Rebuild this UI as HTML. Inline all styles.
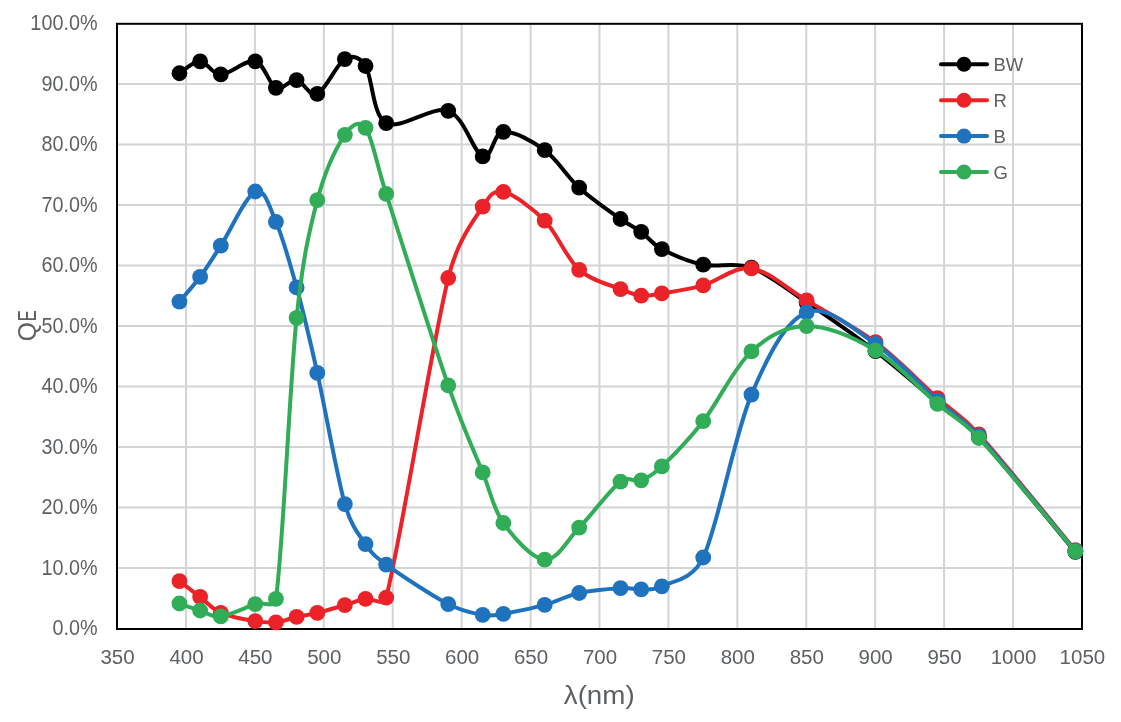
<!DOCTYPE html>
<html><head><meta charset="utf-8"><style>
html,body{margin:0;padding:0;background:#fff;}
svg{display:block;will-change:transform;}
text{font-family:"Liberation Sans",sans-serif;fill:#5E6164;}
</style></head><body>
<svg width="1121" height="722" viewBox="0 0 1121 722">
<rect width="1121" height="722" fill="#fff"/>
<line x1="117" y1="568.00" x2="1082" y2="568.00" stroke="#D3D4D7" stroke-width="2"/>
<line x1="117" y1="507.50" x2="1082" y2="507.50" stroke="#D3D4D7" stroke-width="2"/>
<line x1="117" y1="447.00" x2="1082" y2="447.00" stroke="#D3D4D7" stroke-width="2"/>
<line x1="117" y1="386.50" x2="1082" y2="386.50" stroke="#D3D4D7" stroke-width="2"/>
<line x1="117" y1="326.00" x2="1082" y2="326.00" stroke="#D3D4D7" stroke-width="2"/>
<line x1="117" y1="265.50" x2="1082" y2="265.50" stroke="#D3D4D7" stroke-width="2"/>
<line x1="117" y1="205.00" x2="1082" y2="205.00" stroke="#D3D4D7" stroke-width="2"/>
<line x1="117" y1="144.50" x2="1082" y2="144.50" stroke="#D3D4D7" stroke-width="2"/>
<line x1="117" y1="84.00" x2="1082" y2="84.00" stroke="#D3D4D7" stroke-width="2"/>
<line x1="186.00" y1="24" x2="186.00" y2="629" stroke="#D3D4D7" stroke-width="2"/>
<line x1="254.91" y1="24" x2="254.91" y2="629" stroke="#D3D4D7" stroke-width="2"/>
<line x1="323.83" y1="24" x2="323.83" y2="629" stroke="#D3D4D7" stroke-width="2"/>
<line x1="392.75" y1="24" x2="392.75" y2="629" stroke="#D3D4D7" stroke-width="2"/>
<line x1="461.66" y1="24" x2="461.66" y2="629" stroke="#D3D4D7" stroke-width="2"/>
<line x1="530.58" y1="24" x2="530.58" y2="629" stroke="#D3D4D7" stroke-width="2"/>
<line x1="599.50" y1="24" x2="599.50" y2="629" stroke="#D3D4D7" stroke-width="2"/>
<line x1="668.41" y1="24" x2="668.41" y2="629" stroke="#D3D4D7" stroke-width="2"/>
<line x1="737.33" y1="24" x2="737.33" y2="629" stroke="#D3D4D7" stroke-width="2"/>
<line x1="806.25" y1="24" x2="806.25" y2="629" stroke="#D3D4D7" stroke-width="2"/>
<line x1="875.16" y1="24" x2="875.16" y2="629" stroke="#D3D4D7" stroke-width="2"/>
<line x1="944.08" y1="24" x2="944.08" y2="629" stroke="#D3D4D7" stroke-width="2"/>
<line x1="1012.99" y1="24" x2="1012.99" y2="629" stroke="#D3D4D7" stroke-width="2"/>
<rect x="117" y="23.8" width="965" height="605.2" fill="none" stroke="#000" stroke-width="2"/>
<path d="M179.45,73.25 C182.90,71.26 193.24,61.11 200.13,61.30 C207.02,61.49 211.62,74.40 220.80,74.40 C229.99,74.40 246.07,59.05 255.26,61.30 C264.45,63.55 269.05,84.77 275.94,87.90 C282.83,91.03 289.72,79.10 296.61,80.10 C303.50,81.10 309.25,97.40 317.29,93.90 C325.33,90.40 336.81,63.75 344.85,59.10 C352.89,54.45 359.62,56.84 365.53,66.00 C372.42,76.68 372.42,115.73 386.20,123.20 C399.99,130.67 432.15,105.27 448.23,110.80 C464.31,116.33 473.50,152.90 482.69,156.40 C491.88,159.90 493.02,132.83 503.36,131.80 C513.70,130.77 532.08,140.88 544.71,150.20 C557.35,159.52 566.54,176.23 579.17,187.70 C591.81,199.17 610.18,211.65 620.52,219.00 C630.43,226.05 634.30,226.78 641.20,231.80 C648.09,236.82 651.53,243.62 661.87,249.10 C672.21,254.58 688.29,261.60 703.22,264.70 C718.15,267.80 734.23,261.42 751.46,267.70 C768.69,273.98 785.92,288.48 806.60,302.40 C827.27,316.32 853.69,334.48 875.51,351.20 C897.34,367.92 920.31,388.37 937.54,402.70 C954.77,417.03 960.61,417.42 978.89,437.20 C1001.86,462.07 1059.29,532.78 1075.37,551.90" fill="none" stroke="#000000" stroke-width="4.0" stroke-linejoin="round" stroke-linecap="round"/>
<ellipse cx="179.45" cy="73.25" rx="7.9" ry="7.9" fill="#000000"/>
<ellipse cx="200.13" cy="61.30" rx="7.9" ry="7.9" fill="#000000"/>
<ellipse cx="220.80" cy="74.40" rx="7.9" ry="7.9" fill="#000000"/>
<ellipse cx="255.26" cy="61.30" rx="7.9" ry="7.9" fill="#000000"/>
<ellipse cx="275.94" cy="87.90" rx="7.9" ry="7.9" fill="#000000"/>
<ellipse cx="296.61" cy="80.10" rx="7.9" ry="7.9" fill="#000000"/>
<ellipse cx="317.29" cy="93.90" rx="7.9" ry="7.9" fill="#000000"/>
<ellipse cx="344.85" cy="59.10" rx="7.9" ry="7.9" fill="#000000"/>
<ellipse cx="365.53" cy="66.00" rx="7.9" ry="7.9" fill="#000000"/>
<ellipse cx="386.20" cy="123.20" rx="7.9" ry="7.9" fill="#000000"/>
<ellipse cx="448.23" cy="110.80" rx="7.9" ry="7.9" fill="#000000"/>
<ellipse cx="482.69" cy="156.40" rx="7.9" ry="7.9" fill="#000000"/>
<ellipse cx="503.36" cy="131.80" rx="7.9" ry="7.9" fill="#000000"/>
<ellipse cx="544.71" cy="150.20" rx="7.9" ry="7.9" fill="#000000"/>
<ellipse cx="579.17" cy="187.70" rx="7.9" ry="7.9" fill="#000000"/>
<ellipse cx="620.52" cy="219.00" rx="7.9" ry="7.9" fill="#000000"/>
<ellipse cx="641.20" cy="231.80" rx="7.9" ry="7.9" fill="#000000"/>
<ellipse cx="661.87" cy="249.10" rx="7.9" ry="7.9" fill="#000000"/>
<ellipse cx="703.22" cy="264.70" rx="7.9" ry="7.9" fill="#000000"/>
<ellipse cx="751.46" cy="267.70" rx="7.9" ry="7.9" fill="#000000"/>
<ellipse cx="806.60" cy="302.40" rx="7.9" ry="7.9" fill="#000000"/>
<ellipse cx="875.51" cy="351.20" rx="7.9" ry="7.9" fill="#000000"/>
<ellipse cx="937.54" cy="402.70" rx="7.9" ry="7.9" fill="#000000"/>
<ellipse cx="978.89" cy="437.20" rx="7.9" ry="7.9" fill="#000000"/>
<ellipse cx="1075.37" cy="551.90" rx="7.9" ry="7.9" fill="#000000"/>
<path d="M179.45,581.10 C182.90,583.73 193.24,591.62 200.13,596.90 C207.02,602.18 211.62,608.77 220.80,612.80 C229.99,616.83 246.07,619.52 255.26,621.10 C264.45,622.68 269.05,623.00 275.94,622.30 C282.83,621.60 289.72,618.47 296.61,616.90 C303.50,615.33 309.25,614.87 317.29,612.90 C325.33,610.93 336.81,607.45 344.85,605.10 C352.89,602.75 358.64,600.05 365.53,598.80 C372.42,597.55 383.62,607.63 386.20,597.60 C399.99,544.13 432.15,343.15 448.23,278.00 C457.72,239.56 473.50,221.05 482.69,206.70 C489.54,195.99 493.02,189.57 503.36,191.90 C513.70,194.23 532.08,207.72 544.71,220.70 C557.35,233.68 566.54,258.40 579.17,269.80 C591.81,281.20 610.18,284.80 620.52,289.10 C630.53,293.26 634.30,294.88 641.20,295.60 C648.09,296.32 651.61,295.09 661.87,293.40 C672.21,291.70 688.29,289.57 703.22,285.40 C718.15,281.23 734.23,265.90 751.46,268.40 C768.69,270.90 785.92,288.10 806.60,300.40 C827.27,312.70 853.69,325.92 875.51,342.20 C897.34,358.48 920.31,382.73 937.54,398.10 C954.77,413.47 960.41,414.01 978.89,434.40 C1001.86,459.75 1059.29,530.90 1075.37,550.20" fill="none" stroke="#EB2328" stroke-width="4.0" stroke-linejoin="round" stroke-linecap="round"/>
<ellipse cx="179.45" cy="581.10" rx="7.9" ry="7.9" fill="#EB2328"/>
<ellipse cx="200.13" cy="596.90" rx="7.9" ry="7.9" fill="#EB2328"/>
<ellipse cx="220.80" cy="612.80" rx="7.9" ry="7.9" fill="#EB2328"/>
<ellipse cx="255.26" cy="621.10" rx="7.9" ry="7.9" fill="#EB2328"/>
<ellipse cx="275.94" cy="622.30" rx="7.9" ry="7.9" fill="#EB2328"/>
<ellipse cx="296.61" cy="616.90" rx="7.9" ry="7.9" fill="#EB2328"/>
<ellipse cx="317.29" cy="612.90" rx="7.9" ry="7.9" fill="#EB2328"/>
<ellipse cx="344.85" cy="605.10" rx="7.9" ry="7.9" fill="#EB2328"/>
<ellipse cx="365.53" cy="598.80" rx="7.9" ry="7.9" fill="#EB2328"/>
<ellipse cx="386.20" cy="597.60" rx="7.9" ry="7.9" fill="#EB2328"/>
<ellipse cx="448.23" cy="278.00" rx="7.9" ry="7.9" fill="#EB2328"/>
<ellipse cx="482.69" cy="206.70" rx="7.9" ry="7.9" fill="#EB2328"/>
<ellipse cx="503.36" cy="191.90" rx="7.9" ry="7.9" fill="#EB2328"/>
<ellipse cx="544.71" cy="220.70" rx="7.9" ry="7.9" fill="#EB2328"/>
<ellipse cx="579.17" cy="269.80" rx="7.9" ry="7.9" fill="#EB2328"/>
<ellipse cx="620.52" cy="289.10" rx="7.9" ry="7.9" fill="#EB2328"/>
<ellipse cx="641.20" cy="295.60" rx="7.9" ry="7.9" fill="#EB2328"/>
<ellipse cx="661.87" cy="293.40" rx="7.9" ry="7.9" fill="#EB2328"/>
<ellipse cx="703.22" cy="285.40" rx="7.9" ry="7.9" fill="#EB2328"/>
<ellipse cx="751.46" cy="268.40" rx="7.9" ry="7.9" fill="#EB2328"/>
<ellipse cx="806.60" cy="300.40" rx="7.9" ry="7.9" fill="#EB2328"/>
<ellipse cx="875.51" cy="342.20" rx="7.9" ry="7.9" fill="#EB2328"/>
<ellipse cx="937.54" cy="398.10" rx="7.9" ry="7.9" fill="#EB2328"/>
<ellipse cx="978.89" cy="434.40" rx="7.9" ry="7.9" fill="#EB2328"/>
<ellipse cx="1075.37" cy="550.20" rx="7.9" ry="7.9" fill="#EB2328"/>
<path d="M179.45,301.60 C182.90,297.47 193.24,286.12 200.13,276.80 C207.02,267.48 211.62,259.92 220.80,245.70 C229.99,231.48 246.07,195.48 255.26,191.50 C264.45,187.52 269.05,205.82 275.94,221.80 C282.83,237.78 289.72,262.22 296.61,287.40 C303.50,312.58 309.25,336.78 317.29,372.90 C325.33,409.02 336.81,475.57 344.85,504.10 C350.96,525.77 358.64,534.02 365.53,544.10 C372.42,554.18 374.42,556.05 386.20,564.60 C399.99,574.60 432.15,595.72 448.23,604.10 C464.24,612.45 473.50,613.28 482.69,614.90 C491.88,616.52 493.14,615.45 503.36,613.80 C513.70,612.13 532.08,608.37 544.71,604.90 C557.35,601.43 566.54,595.78 579.17,593.00 C591.81,590.22 610.18,588.80 620.52,588.20 C630.86,587.60 634.30,589.72 641.20,589.40 C648.09,589.08 652.57,591.08 661.87,586.30 C672.21,580.98 692.55,580.33 703.22,557.50 C718.15,525.55 734.23,435.45 751.46,394.60 C768.69,353.75 785.92,320.83 806.60,312.40 C827.27,303.97 853.69,329.28 875.51,344.00 C897.34,358.72 920.31,385.35 937.54,400.70 C954.77,416.05 960.48,416.05 978.89,436.10 C1001.86,461.13 1059.29,531.77 1075.37,550.90" fill="none" stroke="#1E72BE" stroke-width="4.0" stroke-linejoin="round" stroke-linecap="round"/>
<ellipse cx="179.45" cy="301.60" rx="7.9" ry="7.9" fill="#1E72BE"/>
<ellipse cx="200.13" cy="276.80" rx="7.9" ry="7.9" fill="#1E72BE"/>
<ellipse cx="220.80" cy="245.70" rx="7.9" ry="7.9" fill="#1E72BE"/>
<ellipse cx="255.26" cy="191.50" rx="7.9" ry="7.9" fill="#1E72BE"/>
<ellipse cx="275.94" cy="221.80" rx="7.9" ry="7.9" fill="#1E72BE"/>
<ellipse cx="296.61" cy="287.40" rx="7.9" ry="7.9" fill="#1E72BE"/>
<ellipse cx="317.29" cy="372.90" rx="7.9" ry="7.9" fill="#1E72BE"/>
<ellipse cx="344.85" cy="504.10" rx="7.9" ry="7.9" fill="#1E72BE"/>
<ellipse cx="365.53" cy="544.10" rx="7.9" ry="7.9" fill="#1E72BE"/>
<ellipse cx="386.20" cy="564.60" rx="7.9" ry="7.9" fill="#1E72BE"/>
<ellipse cx="448.23" cy="604.10" rx="7.9" ry="7.9" fill="#1E72BE"/>
<ellipse cx="482.69" cy="614.90" rx="7.9" ry="7.9" fill="#1E72BE"/>
<ellipse cx="503.36" cy="613.80" rx="7.9" ry="7.9" fill="#1E72BE"/>
<ellipse cx="544.71" cy="604.90" rx="7.9" ry="7.9" fill="#1E72BE"/>
<ellipse cx="579.17" cy="593.00" rx="7.9" ry="7.9" fill="#1E72BE"/>
<ellipse cx="620.52" cy="588.20" rx="7.9" ry="7.9" fill="#1E72BE"/>
<ellipse cx="641.20" cy="589.40" rx="7.9" ry="7.9" fill="#1E72BE"/>
<ellipse cx="661.87" cy="586.30" rx="7.9" ry="7.9" fill="#1E72BE"/>
<ellipse cx="703.22" cy="557.50" rx="7.9" ry="7.9" fill="#1E72BE"/>
<ellipse cx="751.46" cy="394.60" rx="7.9" ry="7.9" fill="#1E72BE"/>
<ellipse cx="806.60" cy="312.40" rx="7.9" ry="7.9" fill="#1E72BE"/>
<ellipse cx="875.51" cy="344.00" rx="7.9" ry="7.9" fill="#1E72BE"/>
<ellipse cx="937.54" cy="400.70" rx="7.9" ry="7.9" fill="#1E72BE"/>
<ellipse cx="978.89" cy="436.10" rx="7.9" ry="7.9" fill="#1E72BE"/>
<ellipse cx="1075.37" cy="550.90" rx="7.9" ry="7.9" fill="#1E72BE"/>
<path d="M179.45,603.50 C182.90,604.67 193.24,608.35 200.13,610.50 C207.02,612.65 211.62,617.45 220.80,616.40 C229.99,615.35 246.07,607.13 255.26,604.20 C264.45,601.27 274.41,609.37 275.94,598.80 C282.83,551.07 289.72,384.23 296.61,317.80 C302.77,258.42 309.25,230.70 317.29,200.20 C325.33,169.70 336.81,146.85 344.85,134.80 C350.90,125.73 359.27,118.98 365.53,127.90 C372.42,137.73 375.64,160.92 386.20,193.80 C399.99,236.72 432.15,338.97 448.23,385.40 C463.54,429.61 473.50,449.47 482.69,472.40 C491.88,495.33 493.02,508.45 503.36,523.00 C513.70,537.55 532.08,558.92 544.71,559.70 C557.35,560.48 566.54,540.72 579.17,527.70 C591.81,514.68 610.18,489.50 620.52,481.60 C628.75,475.31 634.30,482.83 641.20,480.30 C648.09,477.77 652.85,474.99 661.87,466.40 C672.21,456.55 688.29,440.37 703.22,421.20 C718.15,402.03 734.23,367.25 751.46,351.40 C768.69,335.55 785.92,326.25 806.60,326.10 C827.27,325.95 853.69,337.53 875.51,350.50 C897.34,363.47 920.31,389.32 937.54,403.90 C954.77,418.48 960.59,418.42 978.89,438.00 C1001.86,462.58 1059.29,532.50 1075.37,551.40" fill="none" stroke="#31AC57" stroke-width="4.0" stroke-linejoin="round" stroke-linecap="round"/>
<ellipse cx="179.45" cy="603.50" rx="7.9" ry="7.9" fill="#31AC57"/>
<ellipse cx="200.13" cy="610.50" rx="7.9" ry="7.9" fill="#31AC57"/>
<ellipse cx="220.80" cy="616.40" rx="7.9" ry="7.9" fill="#31AC57"/>
<ellipse cx="255.26" cy="604.20" rx="7.9" ry="7.9" fill="#31AC57"/>
<ellipse cx="275.94" cy="598.80" rx="7.9" ry="7.9" fill="#31AC57"/>
<ellipse cx="296.61" cy="317.80" rx="7.9" ry="7.9" fill="#31AC57"/>
<ellipse cx="317.29" cy="200.20" rx="7.9" ry="7.9" fill="#31AC57"/>
<ellipse cx="344.85" cy="134.80" rx="7.9" ry="7.9" fill="#31AC57"/>
<ellipse cx="365.53" cy="127.90" rx="7.9" ry="7.9" fill="#31AC57"/>
<ellipse cx="386.20" cy="193.80" rx="7.9" ry="7.9" fill="#31AC57"/>
<ellipse cx="448.23" cy="385.40" rx="7.9" ry="7.9" fill="#31AC57"/>
<ellipse cx="482.69" cy="472.40" rx="7.9" ry="7.9" fill="#31AC57"/>
<ellipse cx="503.36" cy="523.00" rx="7.9" ry="7.9" fill="#31AC57"/>
<ellipse cx="544.71" cy="559.70" rx="7.9" ry="7.9" fill="#31AC57"/>
<ellipse cx="579.17" cy="527.70" rx="7.9" ry="7.9" fill="#31AC57"/>
<ellipse cx="620.52" cy="481.60" rx="7.9" ry="7.9" fill="#31AC57"/>
<ellipse cx="641.20" cy="480.30" rx="7.9" ry="7.9" fill="#31AC57"/>
<ellipse cx="661.87" cy="466.40" rx="7.9" ry="7.9" fill="#31AC57"/>
<ellipse cx="703.22" cy="421.20" rx="7.9" ry="7.9" fill="#31AC57"/>
<ellipse cx="751.46" cy="351.40" rx="7.9" ry="7.9" fill="#31AC57"/>
<ellipse cx="806.60" cy="326.10" rx="7.9" ry="7.9" fill="#31AC57"/>
<ellipse cx="875.51" cy="350.50" rx="7.9" ry="7.9" fill="#31AC57"/>
<ellipse cx="937.54" cy="403.90" rx="7.9" ry="7.9" fill="#31AC57"/>
<ellipse cx="978.89" cy="438.00" rx="7.9" ry="7.9" fill="#31AC57"/>
<ellipse cx="1075.37" cy="551.40" rx="7.9" ry="7.9" fill="#31AC57"/>
<line x1="941" y1="64.30" x2="987" y2="64.30" stroke="#000000" stroke-width="4.0" stroke-linecap="round"/>
<ellipse cx="964" cy="64.30" rx="7.5" ry="7.5" fill="#000000"/>
<text transform="translate(993.50,71.20) scale(1.0,1)" text-anchor="start" style="font-size:18.5px">BW</text>
<line x1="941" y1="100.20" x2="987" y2="100.20" stroke="#EB2328" stroke-width="4.0" stroke-linecap="round"/>
<ellipse cx="964" cy="100.20" rx="7.5" ry="7.5" fill="#EB2328"/>
<text transform="translate(993.50,107.10) scale(1.0,1)" text-anchor="start" style="font-size:18.5px">R</text>
<line x1="941" y1="136.10" x2="987" y2="136.10" stroke="#1E72BE" stroke-width="4.0" stroke-linecap="round"/>
<ellipse cx="964" cy="136.10" rx="7.5" ry="7.5" fill="#1E72BE"/>
<text transform="translate(993.50,143.00) scale(1.0,1)" text-anchor="start" style="font-size:18.5px">B</text>
<line x1="941" y1="172.00" x2="987" y2="172.00" stroke="#31AC57" stroke-width="4.0" stroke-linecap="round"/>
<ellipse cx="964" cy="172.00" rx="7.5" ry="7.5" fill="#31AC57"/>
<text transform="translate(993.50,178.90) scale(1.0,1)" text-anchor="start" style="font-size:18.5px">G</text>
<text transform="translate(97.50,635.20) scale(0.925,1)" text-anchor="end" style="font-size:21.4px">0.0%</text>
<text transform="translate(97.50,574.70) scale(0.925,1)" text-anchor="end" style="font-size:21.4px">10.0%</text>
<text transform="translate(97.50,514.20) scale(0.925,1)" text-anchor="end" style="font-size:21.4px">20.0%</text>
<text transform="translate(97.50,453.70) scale(0.925,1)" text-anchor="end" style="font-size:21.4px">30.0%</text>
<text transform="translate(97.50,393.20) scale(0.925,1)" text-anchor="end" style="font-size:21.4px">40.0%</text>
<text transform="translate(97.50,332.70) scale(0.925,1)" text-anchor="end" style="font-size:21.4px">50.0%</text>
<text transform="translate(97.50,272.20) scale(0.925,1)" text-anchor="end" style="font-size:21.4px">60.0%</text>
<text transform="translate(97.50,211.70) scale(0.925,1)" text-anchor="end" style="font-size:21.4px">70.0%</text>
<text transform="translate(97.50,151.20) scale(0.925,1)" text-anchor="end" style="font-size:21.4px">80.0%</text>
<text transform="translate(97.50,90.70) scale(0.925,1)" text-anchor="end" style="font-size:21.4px">90.0%</text>
<text transform="translate(97.50,30.20) scale(0.925,1)" text-anchor="end" style="font-size:21.4px">100.0%</text>
<text transform="translate(117.58,664.00) scale(1.0,1)" text-anchor="middle" style="font-size:20.5px">350</text>
<text transform="translate(186.50,664.00) scale(1.0,1)" text-anchor="middle" style="font-size:20.5px">400</text>
<text transform="translate(255.41,664.00) scale(1.0,1)" text-anchor="middle" style="font-size:20.5px">450</text>
<text transform="translate(324.33,664.00) scale(1.0,1)" text-anchor="middle" style="font-size:20.5px">500</text>
<text transform="translate(393.25,664.00) scale(1.0,1)" text-anchor="middle" style="font-size:20.5px">550</text>
<text transform="translate(462.16,664.00) scale(1.0,1)" text-anchor="middle" style="font-size:20.5px">600</text>
<text transform="translate(531.08,664.00) scale(1.0,1)" text-anchor="middle" style="font-size:20.5px">650</text>
<text transform="translate(600.00,664.00) scale(1.0,1)" text-anchor="middle" style="font-size:20.5px">700</text>
<text transform="translate(668.91,664.00) scale(1.0,1)" text-anchor="middle" style="font-size:20.5px">750</text>
<text transform="translate(737.83,664.00) scale(1.0,1)" text-anchor="middle" style="font-size:20.5px">800</text>
<text transform="translate(806.75,664.00) scale(1.0,1)" text-anchor="middle" style="font-size:20.5px">850</text>
<text transform="translate(875.66,664.00) scale(1.0,1)" text-anchor="middle" style="font-size:20.5px">900</text>
<text transform="translate(944.58,664.00) scale(1.0,1)" text-anchor="middle" style="font-size:20.5px">950</text>
<text transform="translate(1013.49,664.00) scale(1.0,1)" text-anchor="middle" style="font-size:20.5px">1000</text>
<text transform="translate(1082.41,664.00) scale(1.0,1)" text-anchor="middle" style="font-size:20.5px">1050</text>
<text transform="translate(35.8,331.6) rotate(-90) scale(0.98,1)" text-anchor="middle" style="font-size:25px">Q</text>
<text transform="translate(35.8,315.7) rotate(-90) scale(0.66,1)" text-anchor="middle" style="font-size:25px">E</text>
<text transform="translate(599.20,704.30) scale(1.11,1)" text-anchor="middle" style="font-size:25px">λ(nm)</text>
</svg></body></html>
